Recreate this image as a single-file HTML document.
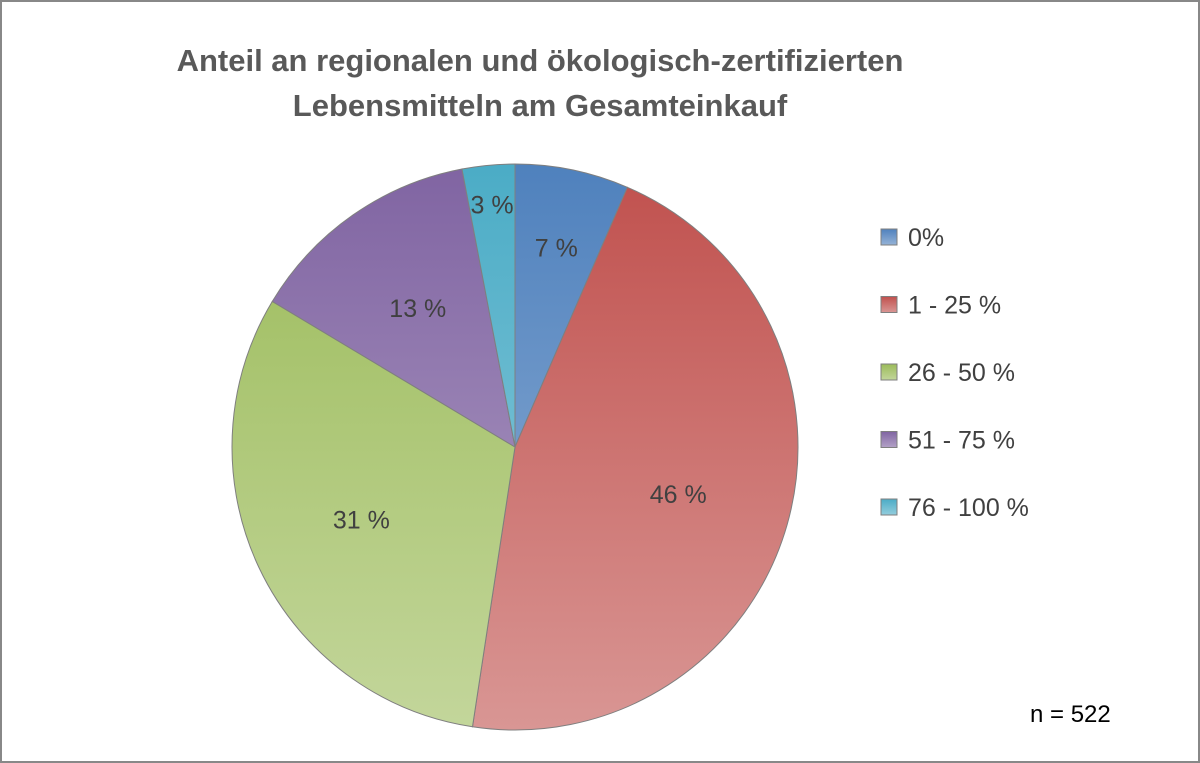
<!DOCTYPE html>
<html><head><meta charset="utf-8"><style>
html,body{margin:0;padding:0;background:#fff}
svg{display:block;font-family:"Liberation Sans",sans-serif}
</style></head><body>
<svg width="1200" height="763" viewBox="0 0 1200 763">
<defs id="defs"></defs>
<rect x="1" y="1" width="1198" height="761" fill="#fff" stroke="#888" stroke-width="2"/>
<text x="540" y="71" text-anchor="middle" font-size="31" font-weight="bold" fill="#595959">Anteil an regionalen und ökologisch-zertifizierten</text>
<text x="540" y="116" text-anchor="middle" font-size="31" font-weight="bold" fill="#595959">Lebensmitteln am Gesamteinkauf</text>
<g id="slices"></g>
<g id="labels"></g>
<g id="legend"></g>
<text x="1030" y="722" font-size="24" fill="#000">n = 522</text>
</svg>
<script>
const categories = ["0%", "1 - 25 %", "26 - 50 %", "51 - 75 %", "76 - 100 %"];
const values = [6.5, 45.9, 31.2, 13.4, 3.0];
const valueLabels = ["7 %", "46 %", "31 %", "13 %", "3 %"];
const topColors = ["#4f81bd", "#c0504d", "#9bbb59", "#8064a2", "#4bacc6"];
const bottomColors = ["#95b3d7", "#d99694", "#c3d69b", "#b3a2c7", "#93cddd"];

const NS = "http://www.w3.org/2000/svg";
const cx = 515, cy = 447, R = 283;
const total = values.reduce((a, b) => a + b, 0);
const defs = document.getElementById("defs");
const sg = document.getElementById("slices");
const lg = document.getElementById("labels");
const leg = document.getElementById("legend");
function pt(frac, r) {
  const a = frac * 2 * Math.PI;
  return [cx + r * Math.sin(a), cy - r * Math.cos(a)];
}
let cum = 0;
values.forEach((v, i) => {
  const g = document.createElementNS(NS, "linearGradient");
  g.setAttribute("id", "grad" + i);
  g.setAttribute("gradientUnits", "userSpaceOnUse");
  g.setAttribute("x1", cx); g.setAttribute("x2", cx);
  g.setAttribute("y1", cy - R); g.setAttribute("y2", cy + R);
  g.innerHTML = `<stop offset="0" stop-color="${topColors[i]}"/><stop offset="1" stop-color="${bottomColors[i]}"/>`;
  defs.appendChild(g);
  const f0 = cum / total, f1 = (cum + v) / total;
  const [x0, y0] = pt(f0, R), [x1, y1] = pt(f1, R);
  const large = (f1 - f0) > 0.5 ? 1 : 0;
  const p = document.createElementNS(NS, "path");
  p.setAttribute("d", `M${cx},${cy} L${x0},${y0} A${R},${R} 0 ${large} 1 ${x1},${y1} Z`);
  p.setAttribute("fill", "url(#grad" + i + ")");
  p.setAttribute("stroke", "#7f7f7f");
  p.setAttribute("stroke-width", "1");
  
  
  sg.appendChild(p);
  const fm = (f0 + f1) / 2;
  const lr = v < 5 ? R * 0.86 : (v < 10 ? R * 0.72 : R * 0.6);
  const [lx, ly] = pt(fm, lr);
  const t = document.createElementNS(NS, "text");
  t.setAttribute("x", lx); t.setAttribute("y", ly + 9);
  t.setAttribute("text-anchor", "middle");
  t.setAttribute("font-size", "25");
  t.setAttribute("fill", "#404040");
  t.textContent = valueLabels[i];
  
  
  lg.appendChild(t);
  cum += v;
  const ly2 = 237 + i * 67.5;
  const r = document.createElementNS(NS, "rect");
  r.setAttribute("x", 881); r.setAttribute("y", ly2 - 8);
  r.setAttribute("width", 16); r.setAttribute("height", 16);
  r.setAttribute("fill", "url(#lgrad" + i + ")");
  r.setAttribute("stroke", "#7f7f7f");
  
  
  const lgr = document.createElementNS(NS, "linearGradient");
  lgr.setAttribute("id", "lgrad" + i);
  lgr.setAttribute("x1", 0); lgr.setAttribute("x2", 0); lgr.setAttribute("y1", 0); lgr.setAttribute("y2", 1);
  lgr.innerHTML = `<stop offset="0" stop-color="${topColors[i]}"/><stop offset="1" stop-color="${bottomColors[i]}"/>`;
  defs.appendChild(lgr);
  leg.appendChild(r);
  const lt = document.createElementNS(NS, "text");
  lt.setAttribute("x", 908); lt.setAttribute("y", ly2 + 9);
  lt.setAttribute("font-size", "25");
  lt.setAttribute("fill", "#404040");
  lt.textContent = categories[i];
  
  
  leg.appendChild(lt);
});
</script>
</body></html>
